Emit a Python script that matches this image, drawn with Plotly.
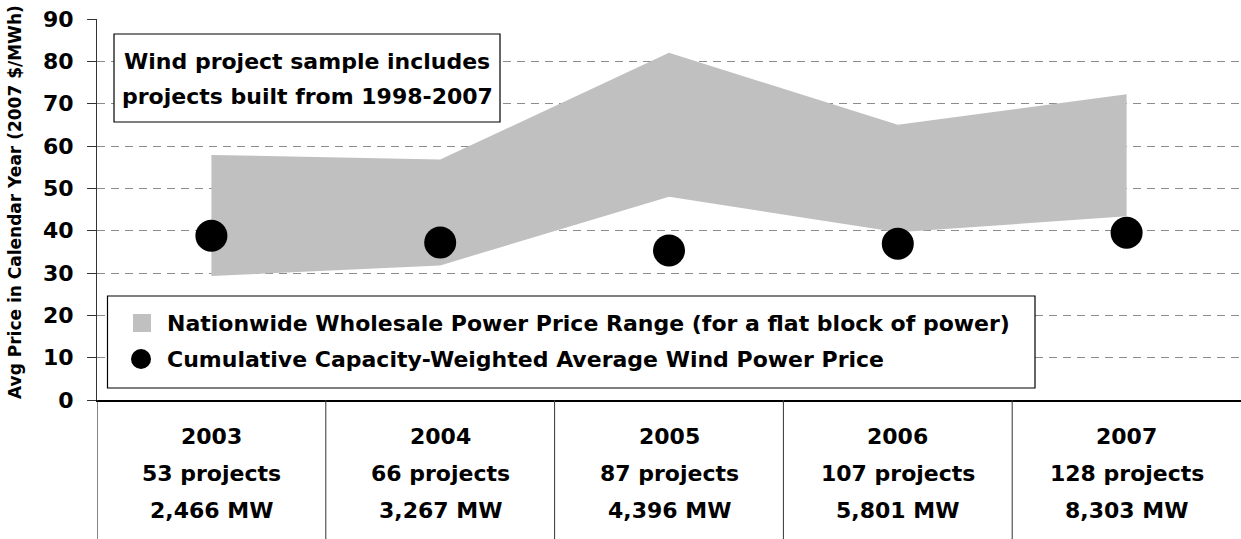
import plotly.graph_objects as go

# ---------------- data ----------------
years = ["2003", "2004", "2005", "2006", "2007"]
projects = ["53 projects", "66 projects", "87 projects", "107 projects", "128 projects"]
capacity = ["2,466 MW", "3,267 MW", "4,396 MW", "5,801 MW", "8,303 MW"]
wholesale_high = [57.9, 56.8, 82.0, 65.0, 72.2]
wholesale_low = [29.3, 31.8, 48.0, 39.6, 43.4]
wind_price = [38.8, 37.2, 35.3, 36.9, 39.5]

# ---------------- geometry helpers ----------------
W, H = 1241, 539
ML, MR, MT, MB = 97, 0, 19, 139
PW, PH = W - ML - MR, H - MT - MB

def px(x):
    return (x - ML) / PW

def py(y):
    return (H - MB - y) / PH

FONT = "DejaVu Sans, Liberation Sans, Arial, sans-serif"
idx = list(range(len(years)))

fig = go.Figure()

# shaded range
fig.add_trace(go.Scatter(
    x=idx + idx[::-1],
    y=wholesale_high + wholesale_low[::-1],
    fill="toself", fillcolor="#c0c0c0",
    line=dict(width=0), mode="lines",
    hoverinfo="skip", showlegend=False,
))

# wind price dots
fig.add_trace(go.Scatter(
    x=idx, y=wind_price, mode="markers",
    marker=dict(color="black", size=32),
    showlegend=False,
))

shapes = []
annotations = []

# table: left border continuation and dividers
for k in range(len(years)):
    xv = k - 0.5
    shapes.append(dict(type="line", xref="x", yref="paper",
                       x0=xv, x1=xv, y0=0, y1=py(H),
                       line=dict(color="#333333", width=1.2 if k == 0 else 1)))

rows = [years, projects, capacity]
row_y = [436, 473, 510]
for r, vals in enumerate(rows):
    for i, v in enumerate(vals):
        annotations.append(dict(x=i, xref="x", y=py(row_y[r]), yref="paper",
                                text=v, showarrow=False,
                                font=dict(family=FONT, size=22, color="black", weight="bold"),
                                xanchor="center", yanchor="middle"))

# text box
shapes.append(dict(type="rect", xref="paper", yref="paper",
                   x0=px(114), x1=px(500), y0=py(122), y1=py(34),
                   line=dict(color="black", width=1.2), fillcolor="white", layer="above"))
for t, yy in [("Wind project sample includes", 61), ("projects built from 1998-2007", 96)]:
    annotations.append(dict(x=px(307), xref="paper", y=py(yy), yref="paper",
                            text=t, showarrow=False,
                            font=dict(family=FONT, size=22, color="black", weight="bold"),
                            xanchor="center", yanchor="middle"))

# legend box
shapes.append(dict(type="rect", xref="paper", yref="paper",
                   x0=px(107.5), x1=px(1035), y0=py(388), y1=py(296),
                   line=dict(color="black", width=1.2), fillcolor="white", layer="above"))
shapes.append(dict(type="rect", xref="paper", yref="paper",
                   x0=px(133), x1=px(151), y0=py(332), y1=py(314),
                   line=dict(width=0), fillcolor="#c0c0c0", layer="above"))
shapes.append(dict(type="circle", xref="paper", yref="paper",
                   x0=px(131), x1=px(151), y0=py(369), y1=py(349),
                   line=dict(width=0), fillcolor="black", layer="above"))
for t, yy in [("Nationwide Wholesale Power Price Range (for a flat block of power)", 323),
              ("Cumulative Capacity-Weighted Average Wind Power Price", 359)]:
    annotations.append(dict(x=px(165), xref="paper", y=py(yy), yref="paper",
                            text=t, showarrow=False,
                            font=dict(family=FONT, size=22, color="black", weight="bold"),
                            xanchor="left", yanchor="middle"))

# y-axis title
annotations.append(dict(x=px(15), xref="paper", y=py(202), yref="paper",
                        text="Avg Price in Calendar Year (2007 $/MWh)", textangle=-90,
                        showarrow=False,
                        font=dict(family=FONT, size=17, color="black", weight="bold"),
                        xanchor="center", yanchor="middle"))

fig.update_layout(
    width=W, height=H,
    margin=dict(l=ML, r=MR, t=MT, b=MB),
    paper_bgcolor="white", plot_bgcolor="white",
    showlegend=False,
    shapes=shapes, annotations=annotations,
    xaxis=dict(range=[-0.5, 4.5], showticklabels=False, showgrid=False,
               zeroline=False, showline=True, linecolor="black", linewidth=1.5,
               ticks="", fixedrange=True),
    yaxis=dict(range=[0, 90], dtick=10, showgrid=True, gridcolor="#8c8c8c",
               griddash="8px,6px", gridwidth=1, zeroline=False,
               showline=True, linecolor="#333333", linewidth=1.2,
               ticks="outside", ticklen=9, tickcolor="#333333",
               ticklabelstandoff=9,
               tickfont=dict(family=FONT, size=22, color="black", weight="bold"),
               fixedrange=True),
)

fig.write_html("out.html",
               config={"displayModeBar": False},
               post_script="document.body.style.margin='0';document.body.style.overflow='hidden';")
